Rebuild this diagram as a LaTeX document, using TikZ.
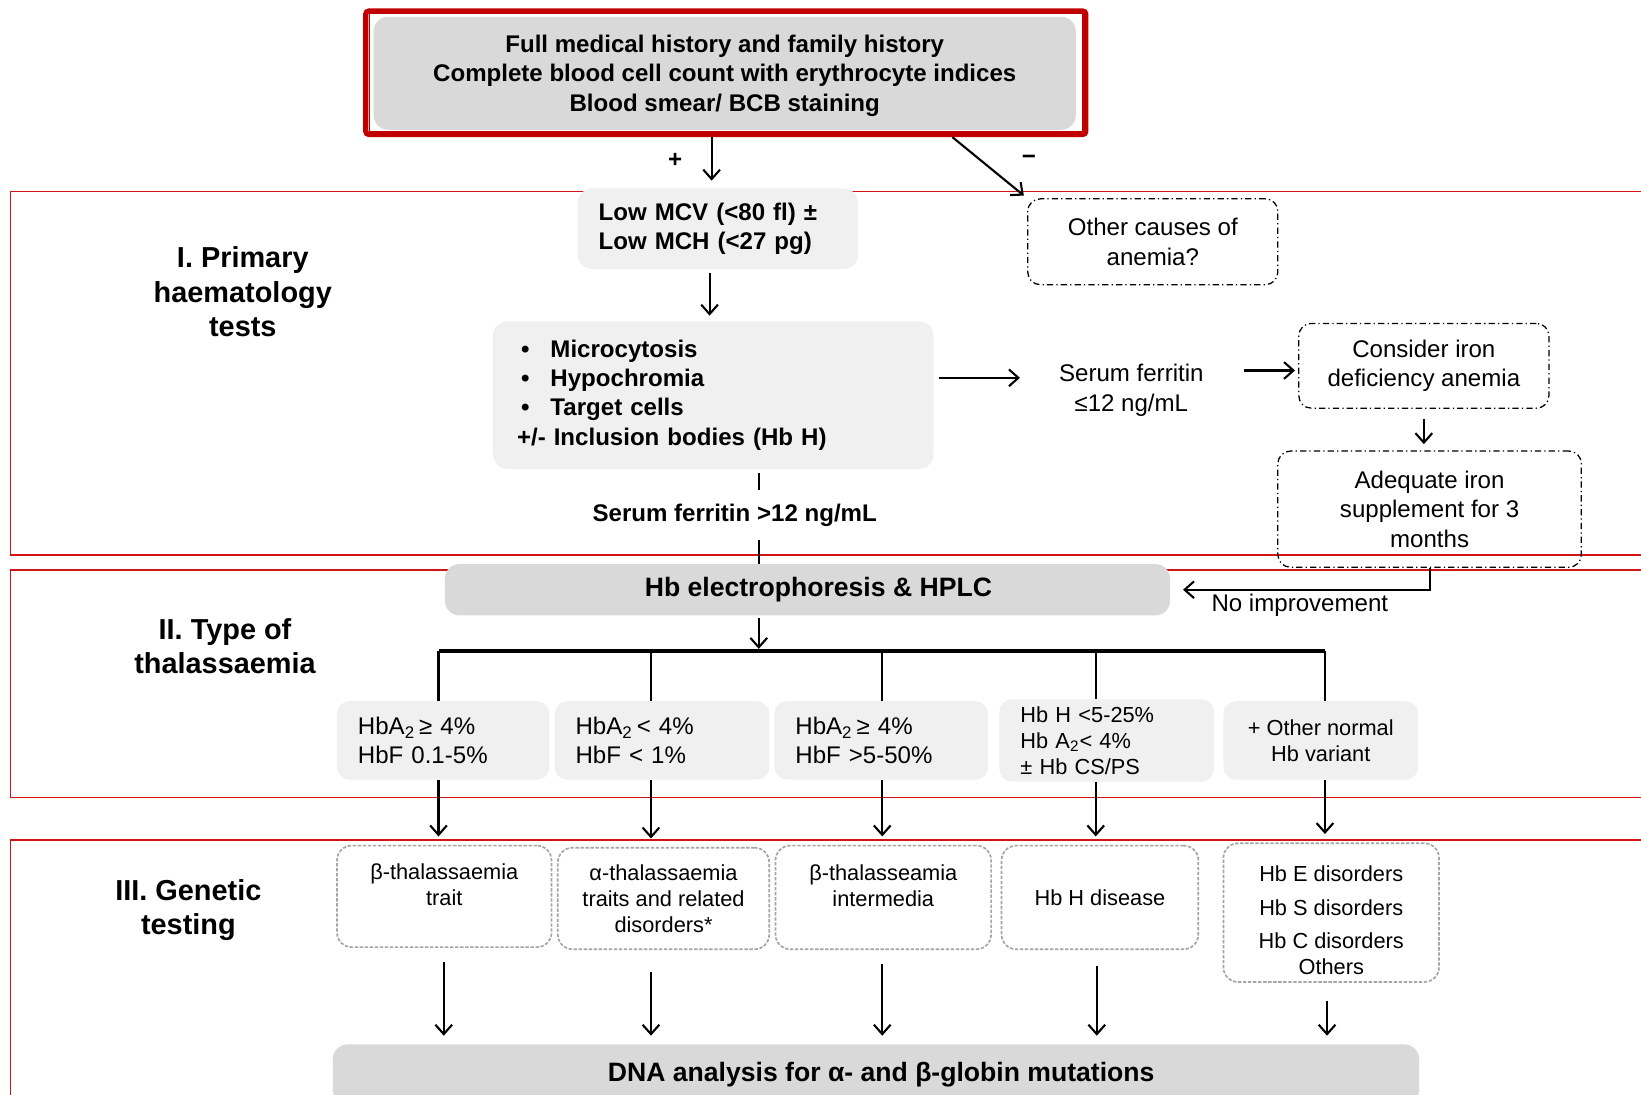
\documentclass[tikz,border=0pt]{standalone}
\usepackage{fontspec}
\setmainfont{Liberation Sans}
\usepackage{xcolor}
\usepackage{tikz}
\usetikzlibrary{arrows.meta, positioning}

\definecolor{frameRed}{RGB}{192,0,0}
\definecolor{secRed}{RGB}{210,20,20}
\definecolor{boxGray}{RGB}{217,217,217}
\definecolor{lightGray}{RGB}{240,240,240}
\definecolor{dashGray}{RGB}{165,165,165}

\newcommand{\szBody}{\fontsize{11.5}{14}\selectfont}
\newcommand{\szSmall}{\fontsize{10.4}{12.5}\selectfont}
\newcommand{\szHead}{\fontsize{13.8}{16.5}\selectfont}
\newcommand{\szBig}{\fontsize{12.7}{15}\selectfont}

\begin{document}
\begin{tikzpicture}[x=0.5pt, y=-0.5pt,
    >={Straight Barb[length=4.5pt,width=8pt]},
    arr/.style={->, line width=1pt},
    link/.style={line width=1pt},
    bar/.style={line width=1.5pt},
    section/.style={draw=secRed, line width=0.9pt},
    heading/.style={font=\szHead\bfseries, align=center},
    txt/.style={font=\szBody, align=center, inner sep=0pt},
    lightbox/.style={fill=lightGray, rounded corners=7pt, font=\szBody, align=left},
    darkbox/.style={fill=boxGray, rounded corners=7pt, font=\szBody\bfseries, align=center},
    dashdot/.style={draw, line width=0.6pt, dash pattern=on 3pt off 1.5pt on 0.6pt off 1.5pt,
        rounded corners=6pt, font=\szBody, align=center},
    rowcell/.style={lightbox, minimum height=37.5pt, rounded corners=6pt},
    genebox/.style={draw=dashGray, line width=0.8pt, dash pattern=on 1.6pt off 0.8pt,
        rounded corners=7pt, font=\szSmall, align=center}]

    % =================================================================
    % 0. CANVAS
    % =================================================================
    \path[use as bounding box] (0,0) rectangle (1568,1046);
    \clip (0,0) rectangle (1568,1046);
    \fill[white] (0,0) rectangle (1568,1046);

    % =================================================================
    % 1. SECTION FRAMES AND LABELS
    % =================================================================
    \draw[section] (1600,183) -| (10,530) -- (1600,530);
    \draw[section] (1600,545) -| (10,762) -- (1600,762);
    \draw[section] (1600,803) -| (10,1090) -- (1600,1090);

    \node[heading] (labPrimary) at (232,279) {I. Primary\\haematology\\tests};
    \node[heading] (labType) at (215,617.5) {II. Type of\\thalassaemia};
    \node[heading] (labGenetic) at (180,869.5) {III. Genetic\\testing};

    % =================================================================
    % 2. HISTORY BOX
    % =================================================================
    \node[draw=frameRed, line width=2.5pt, minimum width=344pt, minimum height=59pt,
        rounded corners=1.5pt] (topframe) at (693.5,69.5) {};
    \draw[frameRed, line width=0.6pt] (353,13) rectangle (1034,126);
    \node[darkbox, minimum width=335.5pt, minimum height=54pt, text depth=0pt] (history) at (692.5,70)
        {Full medical history and family history\\Complete blood cell count with erythrocyte indices\\Blood smear/ BCB staining};

    \node[font=\szBody\bfseries] (plus) at (645,153) {+};
    \node[font=\szBody\bfseries] (minus) at (983,153) {−};

    % =================================================================
    % 3. PRIMARY HAEMATOLOGY TESTS
    % =================================================================
    \node[lightbox, font=\szBody\bfseries, text width=114pt, inner xsep=10pt, minimum height=38.5pt]
        (mcv) at (686,218.5) {Low MCV (<80 fl) ±\\Low MCH (<27 pg)};
    \node[lightbox, font=\szBody\bfseries, text width=187.5pt, inner xsep=11.5pt, minimum height=70.5pt]
        (micro) at (681.5,377.5)
        {\makebox[16pt][l]{\,\textbullet}Microcytosis\\
         \makebox[16pt][l]{\,\textbullet}Hypochromia\\
         \makebox[16pt][l]{\,\textbullet}Target cells\\
         +/- Inclusion bodies (Hb H)};
    \node[dashdot, minimum width=119.5pt, minimum height=41pt] (other) at (1101.5,231) {Other causes of\\anemia?};
    \node[txt] (ferlow) at (1081,373) {Serum ferritin\\≤12 ng/mL};
    \node[dashdot, minimum width=119.5pt, minimum height=40.5pt] (consider) at (1360.5,349.5) {Consider iron\\deficiency anemia};
    \node[dashdot, minimum width=145pt, minimum height=55.5pt] (adequate) at (1366,486.5) {Adequate iron\\supplement for 3\\months};
    \node[txt, font=\szBody\bfseries] (fhigh) at (702,492) {Serum ferritin >12 ng/mL};

    \draw[arr, shorten >=3.5pt] (topframe.south -| 680,0) -- (mcv.north -| 680,0);
    \draw[arr, shorten >=2pt] (topframe.south -| 910,0) -- (other.north west);
    \draw[arr, shorten <=1.5pt, shorten >=2.5pt] (mcv.south -| 678,0) -- (micro.north -| 678,0);
    \draw[arr, shorten <=2.5pt, shorten >=18.5pt] (micro.east |- 0,361) -- (ferlow.west |- 0,361);
    \draw[arr, shorten <=19pt, shorten >=1.5pt] (ferlow.east |- 0,354) -- (consider.west |- 0,354);
    \draw[arr, shorten <=5pt, shorten >=3pt] (consider.south) -- (adequate.north -| consider.south);
    \draw[link, shorten <=2pt, shorten >=6.5pt] (micro.south -| 725,0) -- (fhigh.north -| 725,0);

    % =================================================================
    % 4. TYPE OF THALASSAEMIA
    % =================================================================
    \node[darkbox, font=\szBig\bfseries, minimum width=346.5pt, minimum height=24.5pt] (hb) at (771.5,563.5)
        {\hspace*{10.5pt}Hb electrophoresis \& HPLC};
    \node[txt] (noimp) at (1242,578) {No improvement};
    \coordinate (split) at (725,622);

    \draw[link, shorten <=6.5pt] (fhigh.south -| 725,0) -- (hb.north -| 725,0);
    \draw[arr, shorten >=6pt] (adequate.south) |- (hb.east);
    \draw[arr, shorten <=1pt, shorten >=1pt] (hb.south -| split) -- (split);
    \draw[bar] (419,622) -- (1266,622);

    \node[rowcell, text width=81.5pt, inner xsep=10pt] (hbaHigh) at (423.5,707.5) {HbA\textsubscript{2}\,≥ 4\%\\HbF 0.1-5\%};
    \node[rowcell, text width=82.5pt, inner xsep=10pt] (hbaLow) at (632.5,707.5) {HbA\textsubscript{2}\,< 4\%\\HbF < 1\%};
    \node[rowcell, text width=82pt, inner xsep=10pt] (hbfHigh) at (842,707.5) {HbA\textsubscript{2}\,≥ 4\%\\HbF >5-50\%};
    \node[rowcell, font=\szSmall, text width=82.5pt, inner xsep=10pt] (hbhRow) at (1057.5,707.5) {Hb H <5-25\%\\Hb A\textsubscript{2}< 4\%\\± Hb CS/PS};
    \node[rowcell, font=\szSmall, align=center, minimum width=93pt] (variant) at (1262,707.5) {+ Other normal\\Hb variant};

    % =================================================================
    % 5. GENETIC TESTING
    % =================================================================
    \node[genebox, minimum width=102.5pt, minimum height=48.5pt, text depth=11pt] (betaTrait) at (424.5,856.5) {β-thalassaemia\\trait};
    \node[genebox, minimum width=101pt, minimum height=48.5pt] (alphaTrait) at (634,858.5) {α-thalassaemia\\traits and related\\disorders*};
    \node[genebox, minimum width=103pt, minimum height=49.5pt, text depth=11pt] (betaInter) at (844,857.5) {β-thalasseamia\\intermedia};
    \node[genebox, minimum width=94pt, minimum height=49.5pt] (hbhDisease) at (1051,857.5) {Hb H disease};
    \node[genebox, minimum width=103pt, minimum height=64pt] (others) at (1272,872)
        {\rule{0pt}{15pt}Hb E disorders\\[3.5pt]Hb S disorders\\[3.5pt]Hb C disorders\\Others};
    \node[darkbox, font=\szBig\bfseries, minimum width=519pt, minimum height=29pt] (dna) at (837,1027)
        {\hspace*{5pt}DNA analysis for α- and β-globin mutations};

    \foreach \t/\g/\x in {hbaHigh/betaTrait/419, hbaLow/alphaTrait/622, hbfHigh/betaInter/843,
        hbhRow/hbhDisease/1047, variant/others/1266} {
        \draw[link] (\x,622) -- (\t.north -| \x,0);
        \draw[arr, shorten >=4pt] (\t.south -| \x,0) -- (\g.north -| \x,0);
    }
    \foreach \g/\x/\s in {betaTrait/424/6.5pt, alphaTrait/622/10.5pt, betaInter/843/6.5pt,
        hbhDisease/1048/7.5pt, others/1268/8.5pt} {
        \draw[arr, shorten <=\s, shorten >=4pt] (\g.south -| \x,0) -- (dna.north -| \x,0);
    }

\end{tikzpicture}
\end{document}
